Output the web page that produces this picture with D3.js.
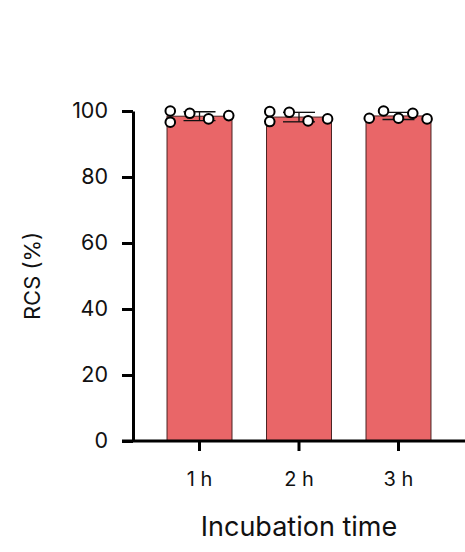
<!DOCTYPE html>
<html>
<head>
<meta charset="utf-8">
<script src="https://cdn.jsdelivr.net/npm/d3@7"></script>
<style>
  html, body { margin: 0; padding: 0; background: #fff; }
  text { font-family: Inter, 'Noto Sans', sans-serif; fill: #111; }
</style>
</head>
<body>
<div id="plot"></div>
<script>
var categories = ['1 h', '2 h', '3 h']
// replicate RCS values (%) per incubation time
var rcs1h = [100.0, 96.6, 99.3, 97.6, 98.6]
var rcs2h = [99.8, 96.8, 99.6, 97.0, 97.6]
var rcs3h = [97.8, 100.0, 97.8, 99.3, 97.6]
var yTicks = [0, 20, 40, 60, 80, 100]

var series = [rcs1h, rcs2h, rcs3h]
// horizontal spread of replicate dots, as fraction of bar width
var jitter = [
  [-0.45, -0.45, -0.15, 0.14, 0.45],
  [-0.45, -0.45, -0.15, 0.14, 0.44],
  [-0.45, -0.23, 0, 0.22, 0.44]
]

var W = 465, H = 552
var plotLeft = 133, plotRight = 465, plotTop = 111, plotBottom = 441

var svg = d3.select('#plot').append('svg')
  .attr('width', W)
  .attr('height', H)

var xScale = d3.scaleBand()
  .domain(categories)
  .range([plotLeft, plotRight])
  .paddingInner(0.347)
  .paddingOuter(0.342)

var yScale = d3.scaleLinear()
  .domain([0, 100])
  .range([plotBottom, plotTop])

var stats = series.map(function(vals, i) {
  return { cat: categories[i], mean: d3.mean(vals), sd: d3.deviation(vals), vals: vals }
})

// bars
svg.append('g').selectAll('rect')
  .data(stats)
  .enter().append('rect')
  .attr('x', function(d) { return xScale(d.cat) })
  .attr('y', function(d) { return yScale(d.mean) })
  .attr('width', xScale.bandwidth())
  .attr('height', function(d) { return yScale(0) - yScale(d.mean) })
  .style('fill', '#e96668')
  .style('stroke', '#4a2424')
  .style('stroke-width', 1)

// error bars (mean +/- SD)
var cap = 32
var eb = svg.append('g').style('stroke', '#111').style('stroke-width', 1.3)
stats.forEach(function(d) {
  var cx = xScale(d.cat) + xScale.bandwidth() / 2
  var y1 = yScale(d.mean + d.sd), y0 = yScale(d.mean - d.sd)
  eb.append('line').attr('x1', cx).attr('x2', cx).attr('y1', y1).attr('y2', y0)
  eb.append('line').attr('x1', cx - cap / 2).attr('x2', cx + cap / 2).attr('y1', y1).attr('y2', y1)
  eb.append('line').attr('x1', cx - cap / 2).attr('x2', cx + cap / 2).attr('y1', y0).attr('y2', y0)
})

// axes
var yAxis = d3.axisLeft(yScale).tickValues(yTicks).tickSize(11).tickSizeOuter(0).tickPadding(14)
var xAxis = d3.axisBottom(xScale).tickSize(10).tickSizeOuter(0).tickPadding(21)

var gy = svg.append('g')
  .attr('transform', 'translate(' + plotLeft + ',0)')
  .call(yAxis)
gy.selectAll('text').style('font-size', '21.5px')

var gx = svg.append('g')
  .attr('transform', 'translate(0,' + plotBottom + ')')
  .call(xAxis)
gx.selectAll('text').style('font-size', '20px')

svg.selectAll('.domain, .tick line')
  .style('stroke', '#000')
  .style('stroke-width', 3)
gx.select('.domain').attr('d', 'M' + (plotLeft - 11) + ',0H' + plotRight)

// replicate dots
stats.forEach(function(d, i) {
  var bw = xScale.bandwidth()
  var cx = xScale(d.cat) + bw / 2
  svg.append('g').selectAll('circle')
    .data(d.vals)
    .enter().append('circle')
    .attr('cx', function(v, j) { return cx + jitter[i][j] * bw })
    .attr('cy', function(v) { return yScale(v) })
    .attr('r', 4.8)
    .style('fill', '#fff')
    .style('stroke', '#000')
    .style('stroke-width', 2)
})

// titles
svg.append('text')
  .attr('x', (plotLeft + plotRight) / 2)
  .attr('y', 536)
  .attr('text-anchor', 'middle')
  .style('font-size', '27px')
  .text('Incubation time')

svg.append('text')
  .attr('transform', 'translate(40,' + (plotTop + plotBottom) / 2 + ') rotate(-90)')
  .attr('text-anchor', 'middle')
  .style('font-size', '22px')
  .text('RCS (%)')
</script>
</body>
</html>
